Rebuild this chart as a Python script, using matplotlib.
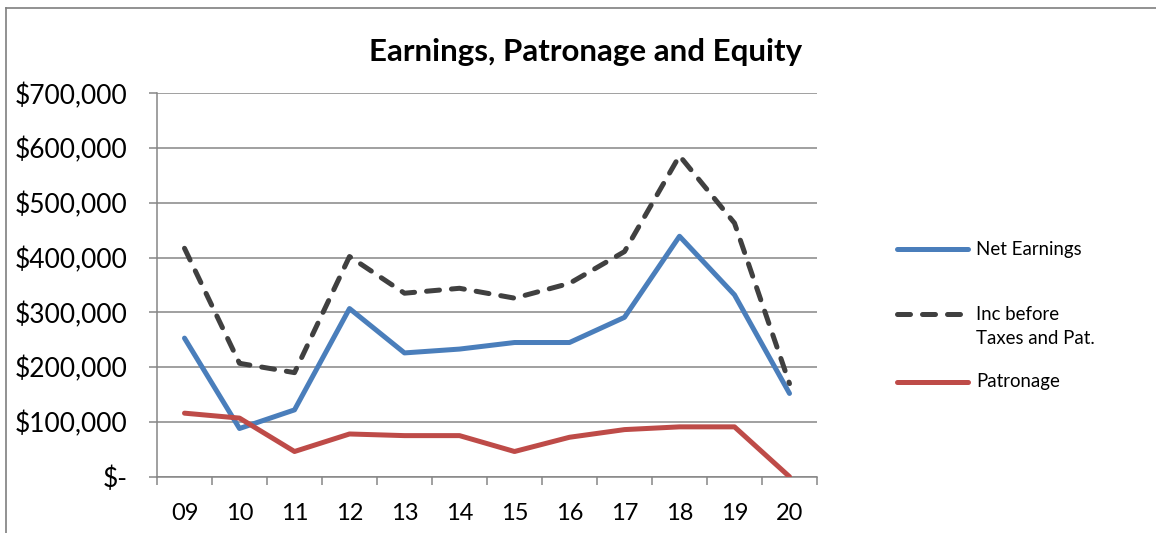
import matplotlib.pyplot as plt
from matplotlib.lines import Line2D

plt.rcParams['font.family'] = ['Lato', 'DejaVu Sans']

## Data
years = ["09", "10", "11", "12", "13", "14", "15", "16", "17", "18", "19", "20"]
net_earnings = [253000, 88000, 122000, 307000, 226000, 233000, 245000, 245000, 291000, 439000, 332000, 152000]
inc_before = [417000, 207000, 190000, 402000, 335000, 344000, 326000, 353000, 411000, 586000, 463000, 170000]
patronage = [116000, 107000, 46000, 78000, 75000, 75000, 46000, 72000, 86000, 91000, 91000, 0]
yticks = [0, 100000, 200000, 300000, 400000, 500000, 600000, 700000]

blue = "#4A7EBB"
dark = "#404040"
red = "#BE4B48"
grid = "#868686"
dash = (2.6, 2.4)

W, H = 1156, 533
fig = plt.figure(figsize=(W / 100, H / 100), dpi=100)

# outer chart border (top and left)
fig.add_artist(Line2D([6 / W, 1], [1 - 8 / H, 1 - 8 / H], color="#7f7f7f", lw=1.2))
fig.add_artist(Line2D([6 / W, 6 / W], [0, 1 - 8 / H], color="#7f7f7f", lw=1.2))

ax = fig.add_axes([157 / W, (H - 476.7) / H, 660 / W, 383.4 / H])

x = list(range(len(years)))
ax.plot(x, net_earnings, color=blue, lw=3.6, solid_capstyle="round", solid_joinstyle="round", zorder=3)
ax.plot(x, inc_before, color=dark, lw=3.6, dashes=dash, dash_capstyle="round", zorder=3)
ax.plot(x, patronage, color=red, lw=3.6, solid_capstyle="round", solid_joinstyle="round", zorder=3)

ax.set_xlim(-0.5, len(years) - 0.5)
ax.set_ylim(0, 700000)

ax.set_yticks(yticks)
ax.set_yticklabels(["$-" if v == 0 else "${:,.0f}".format(v) for v in yticks])
ax.yaxis.grid(True, color=grid, lw=1.1)
ax.set_axisbelow(True)

ax.set_xticks([i - 0.5 for i in range(len(years) + 1)])
ax.set_xticklabels([])
ax.set_xticks(x, minor=True)
ax.set_xticklabels(years, minor=True)
ax.tick_params(axis="x", which="major", length=6, width=1.1, color=grid, direction="out")
ax.tick_params(axis="x", which="minor", length=0, pad=19, labelsize=17)
ax.tick_params(axis="y", length=6, width=1.1, color=grid, labelsize=19, pad=15)

for side in ["top", "right"]:
    ax.spines[side].set_visible(False)
for side in ["left", "bottom"]:
    ax.spines[side].set_color(grid)
    ax.spines[side].set_linewidth(1.1)

fig.text(586 / W, 1 - 52 / H, "Earnings, Patronage and Equity", ha="center", va="center",
         fontsize=22.5, fontweight="bold")

# legend
def legend_entry(y, color, dashed=False):
    kw = dict(dashes=dash, dash_capstyle="round") if dashed else dict(solid_capstyle="round")
    fig.add_artist(Line2D([897 / W, 968 / W], [1 - y / H] * 2, color=color, lw=3.6, **kw))

legend_entry(249, blue)
legend_entry(314, dark, dashed=True)
legend_entry(382, red)
fig.text(976 / W, 1 - 249 / H, "Net Earnings", va="center", fontsize=13.4)
fig.text(976 / W, 1 - 314 / H, "Inc before", va="center", fontsize=13.4)
fig.text(976 / W, 1 - 339 / H, "Taxes and Pat.", va="center", fontsize=13.4)
fig.text(976 / W, 1 - 382 / H, "Patronage", va="center", fontsize=13.4)

fig.savefig("out.png", dpi=100)
